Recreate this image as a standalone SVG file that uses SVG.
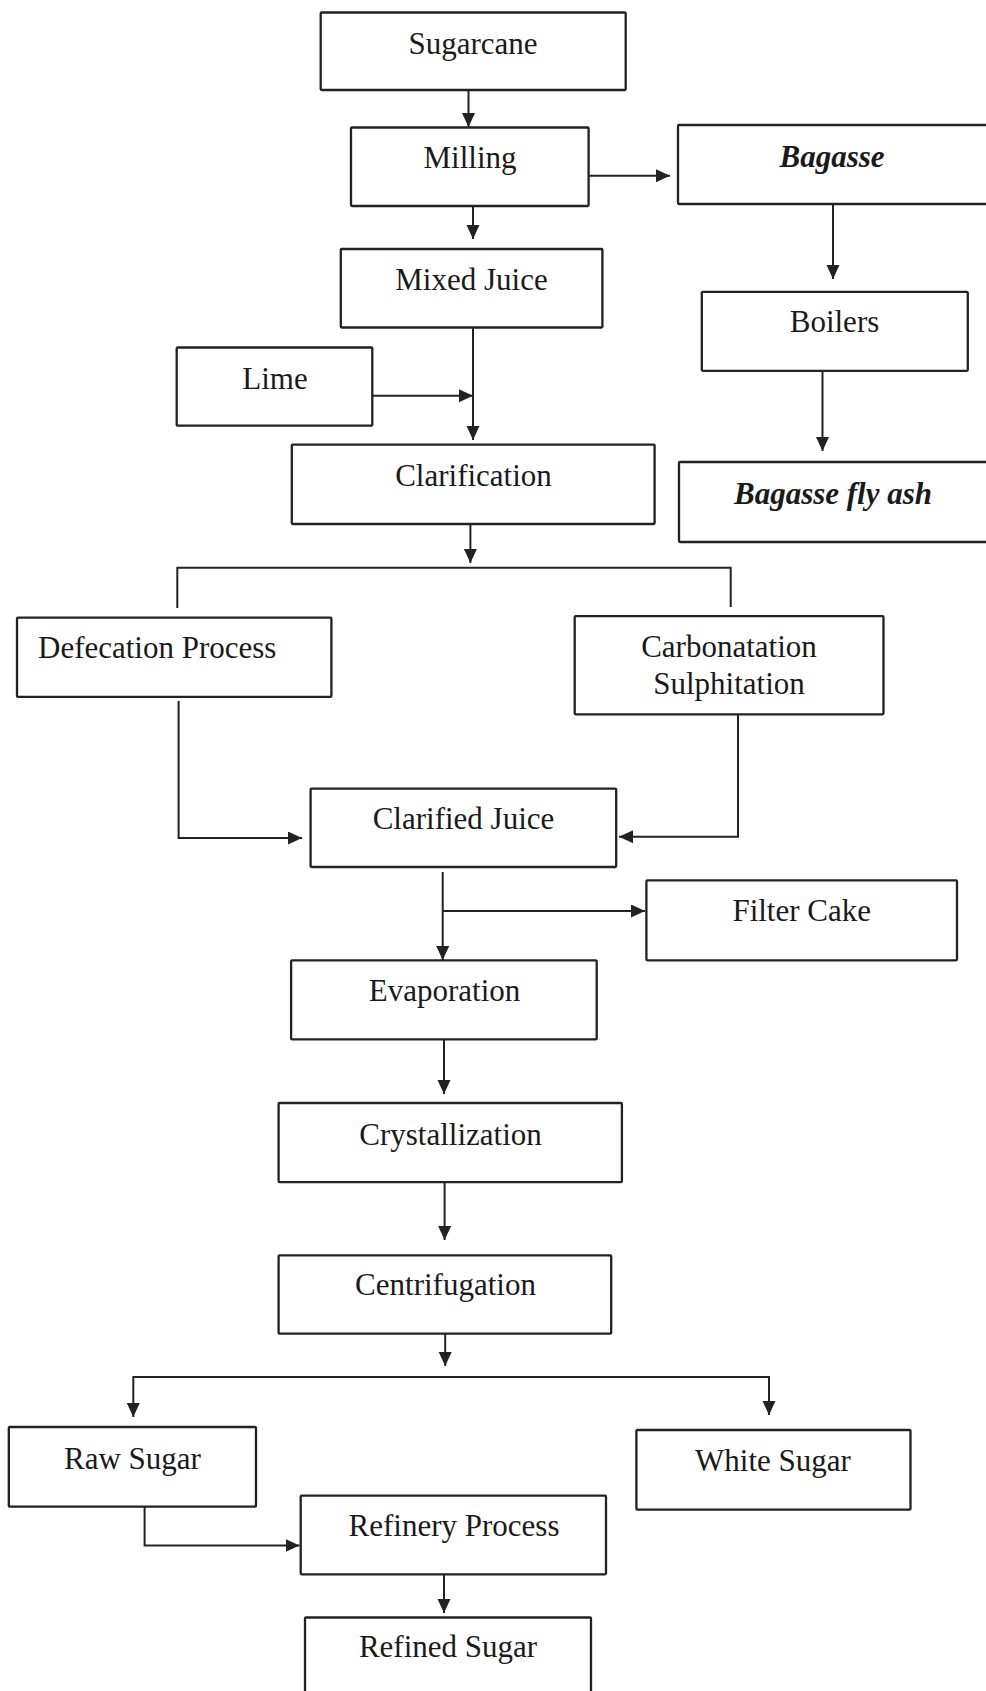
<svg xmlns="http://www.w3.org/2000/svg" width="986" height="1691" viewBox="0 0 986 1691">
<style>
.box{fill:#fff;stroke:#222;stroke-width:2.3}
.t{font-family:"Liberation Serif","Times New Roman",serif;font-size:31px;fill:#1a1a1a;text-anchor:middle}
.bi{font-weight:bold;font-style:italic}
.c{fill:none;stroke:#222;stroke-width:2}
</style>
<defs>
<marker id="ah" markerUnits="userSpaceOnUse" markerWidth="15" markerHeight="14" refX="14" refY="6.5" orient="auto">
<path d="M0,0 L14,6.5 L0,13 z" fill="#222"/>
</marker>
</defs>
<rect width="986" height="1691" fill="#fff"/>
<g id="connectors">
<path class="c" d="M468.5,90 V127" marker-end="url(#ah)"/>
<path class="c" d="M589,175.7 H670" marker-end="url(#ah)"/>
<path class="c" d="M473,206 V239" marker-end="url(#ah)"/>
<path class="c" d="M833,205 V279" marker-end="url(#ah)"/>
<path class="c" d="M822.5,371 V451" marker-end="url(#ah)"/>
<path class="c" d="M473,327 V440" marker-end="url(#ah)"/>
<path class="c" d="M372,395.7 H473" marker-end="url(#ah)"/>
<path class="c" d="M470.4,524 V563" marker-end="url(#ah)"/>
<path class="c" d="M177.3,608 V567.7 H730.7 V607"/>
<path class="c" d="M178.6,701 V838 H302" marker-end="url(#ah)"/>
<path class="c" d="M738,714 V836.7 H619" marker-end="url(#ah)"/>
<path class="c" d="M442.7,872 V960" marker-end="url(#ah)"/>
<path class="c" d="M442.7,911 H645" marker-end="url(#ah)"/>
<path class="c" d="M444,1039 V1094" marker-end="url(#ah)"/>
<path class="c" d="M444.6,1182 V1240" marker-end="url(#ah)"/>
<path class="c" d="M445.2,1334 V1366" marker-end="url(#ah)"/>
<path class="c" d="M445,1377 H133.3 V1417" marker-end="url(#ah)"/>
<path class="c" d="M445,1377 H769 V1415" marker-end="url(#ah)"/>
<path class="c" d="M144.6,1507 V1545.5 H299.5" marker-end="url(#ah)"/>
<path class="c" d="M444,1575 V1613" marker-end="url(#ah)"/>
</g>
<g id="sugarcane"><rect class="box" x="320.7" y="12.5" width="305" height="77.5" rx="1"/><text class="t" x="473" y="53.6">Sugarcane</text></g>
<g id="milling"><rect class="box" x="351" y="127.5" width="237.6" height="78.5" rx="1"/><text class="t" x="470" y="167.9">Milling</text></g>
<g id="bagasse"><rect class="box" x="678" y="125" width="320" height="79" rx="1"/><text class="t bi" x="832" y="167">Bagasse</text></g>
<g id="mixed-juice"><rect class="box" x="340.8" y="249" width="261.6" height="78.5" rx="1"/><text class="t" x="471.5" y="290">Mixed Juice</text></g>
<g id="boilers"><rect class="box" x="701.8" y="291.8" width="266" height="79" rx="1"/><text class="t" x="834.5" y="332">Boilers</text></g>
<g id="lime"><rect class="box" x="176.7" y="347.5" width="195.6" height="78.2" rx="1"/><text class="t" x="275" y="388.6">Lime</text></g>
<g id="clarification"><rect class="box" x="291.8" y="444.6" width="362.8" height="79.4" rx="1"/><text class="t" x="473.5" y="485.7">Clarification</text></g>
<g id="bagasse-fly-ash"><rect class="box" x="679" y="462" width="320" height="80" rx="1"/><text class="t bi" x="833" y="504">Bagasse fly ash</text></g>
<g id="defecation"><rect class="box" x="17" y="617.7" width="314.4" height="79.2" rx="1"/><text class="t" x="38" y="658.4" style="text-anchor:start">Defecation Process</text></g>
<g id="carbonatation"><rect class="box" x="574.7" y="616.2" width="308.8" height="98.1" rx="1"/><text class="t" x="729" y="656.5">Carbonatation</text><text class="t" x="729" y="693.5">Sulphitation</text></g>
<g id="clarified-juice"><rect class="box" x="310.6" y="788.6" width="305.6" height="78.4" rx="1"/><text class="t" x="463.5" y="828.6">Clarified Juice</text></g>
<g id="filter-cake"><rect class="box" x="646.4" y="880.4" width="310.6" height="79.9" rx="1"/><text class="t" x="801.7" y="921">Filter Cake</text></g>
<g id="evaporation"><rect class="box" x="291.1" y="960.3" width="305.6" height="79.1" rx="1"/><text class="t" x="444.5" y="1000.6">Evaporation</text></g>
<g id="crystallization"><rect class="box" x="278.6" y="1103" width="343.3" height="79.2" rx="1"/><text class="t" x="450.5" y="1144.5">Crystallization</text></g>
<g id="centrifugation"><rect class="box" x="278.6" y="1255.3" width="332.6" height="78.4" rx="1"/><text class="t" x="445.5" y="1295.2">Centrifugation</text></g>
<g id="raw-sugar"><rect class="box" x="8.8" y="1427" width="247.2" height="79.7" rx="1"/><text class="t" x="132.5" y="1468.6">Raw Sugar</text></g>
<g id="white-sugar"><rect class="box" x="636.4" y="1430" width="274.1" height="79.7" rx="1"/><text class="t" x="773" y="1471.3">White Sugar</text></g>
<g id="refinery"><rect class="box" x="300.7" y="1495.7" width="305.3" height="78.6" rx="1"/><text class="t" x="454" y="1536">Refinery Process</text></g>
<g id="refined-sugar"><rect class="box" x="305" y="1617.5" width="286" height="90" rx="1"/><text class="t" x="448" y="1657">Refined Sugar</text></g>
</svg>
